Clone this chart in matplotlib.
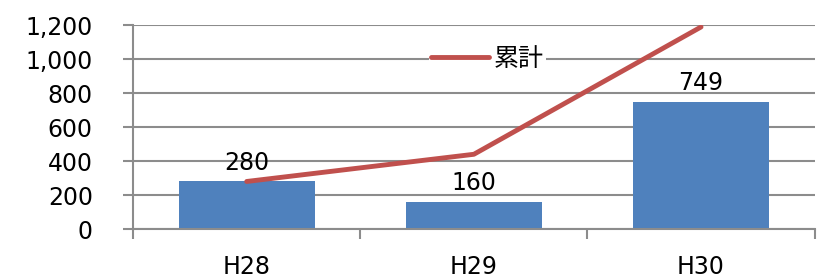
import matplotlib
matplotlib.use("Agg")
import matplotlib.pyplot as plt
import numpy as np

plt.rcParams['font.family'] = ['DejaVu Sans', 'Noto Sans CJK JP']

categories = ["H28", "H29", "H30"]
counts = [280, 160, 749]
cumulative = [280, 440, 1189]
yticks = [0, 200, 400, 600, 800, 1000, 1200]

grid_col = "#8c8c8c"
bar_col = "#4f81bd"
line_col = "#c0504d"

fig = plt.figure(figsize=(8.27, 2.79), dpi=100)
ax = fig.add_axes([0.161, 0.179, 0.824, 0.731])

x = np.arange(len(categories))
ax.bar(x, counts, width=0.6, color=bar_col, zorder=2)
ax.plot(x, cumulative, color=line_col, lw=3.5, solid_capstyle="round", zorder=3, label="累計")

for xi, v in zip(x, counts):
    ax.text(xi, v + 40, str(v), ha="center", va="bottom", fontsize=17)

ax.set_xlim(-0.5, len(categories) - 0.5)
ax.set_ylim(0, 1200)
ax.set_yticks(yticks)
ax.set_yticklabels([f"{t:,}" for t in yticks], fontsize=17)
ax.yaxis.grid(True, color=grid_col, lw=1.5, zorder=0)
ax.set_axisbelow(True)

ax.set_xticks(x)
ax.set_xticklabels(categories, fontsize=17)
ax.tick_params(axis="x", length=0, pad=19)
ax.set_xticks(np.arange(len(categories) + 1) - 0.5, minor=True)
ax.tick_params(axis="x", which="minor", length=7, width=1.5, color=grid_col)
ax.tick_params(axis="y", length=7, width=1.5, color=grid_col, pad=22)

for s in ["top", "right"]:
    ax.spines[s].set_visible(False)
for s in ["left", "bottom"]:
    ax.spines[s].set_color(grid_col)
    ax.spines[s].set_linewidth(1.5)

leg = ax.legend(loc="center", bbox_to_anchor=(0.52, 0.835), frameon=True,
                fontsize=18, handlelength=2.3, handletextpad=0.2,
                borderpad=0.1, borderaxespad=0)
leg.get_frame().set_edgecolor("none")
leg.get_frame().set_facecolor("white")
leg.get_frame().set_alpha(1)

fig.savefig("out.png", dpi=100)
